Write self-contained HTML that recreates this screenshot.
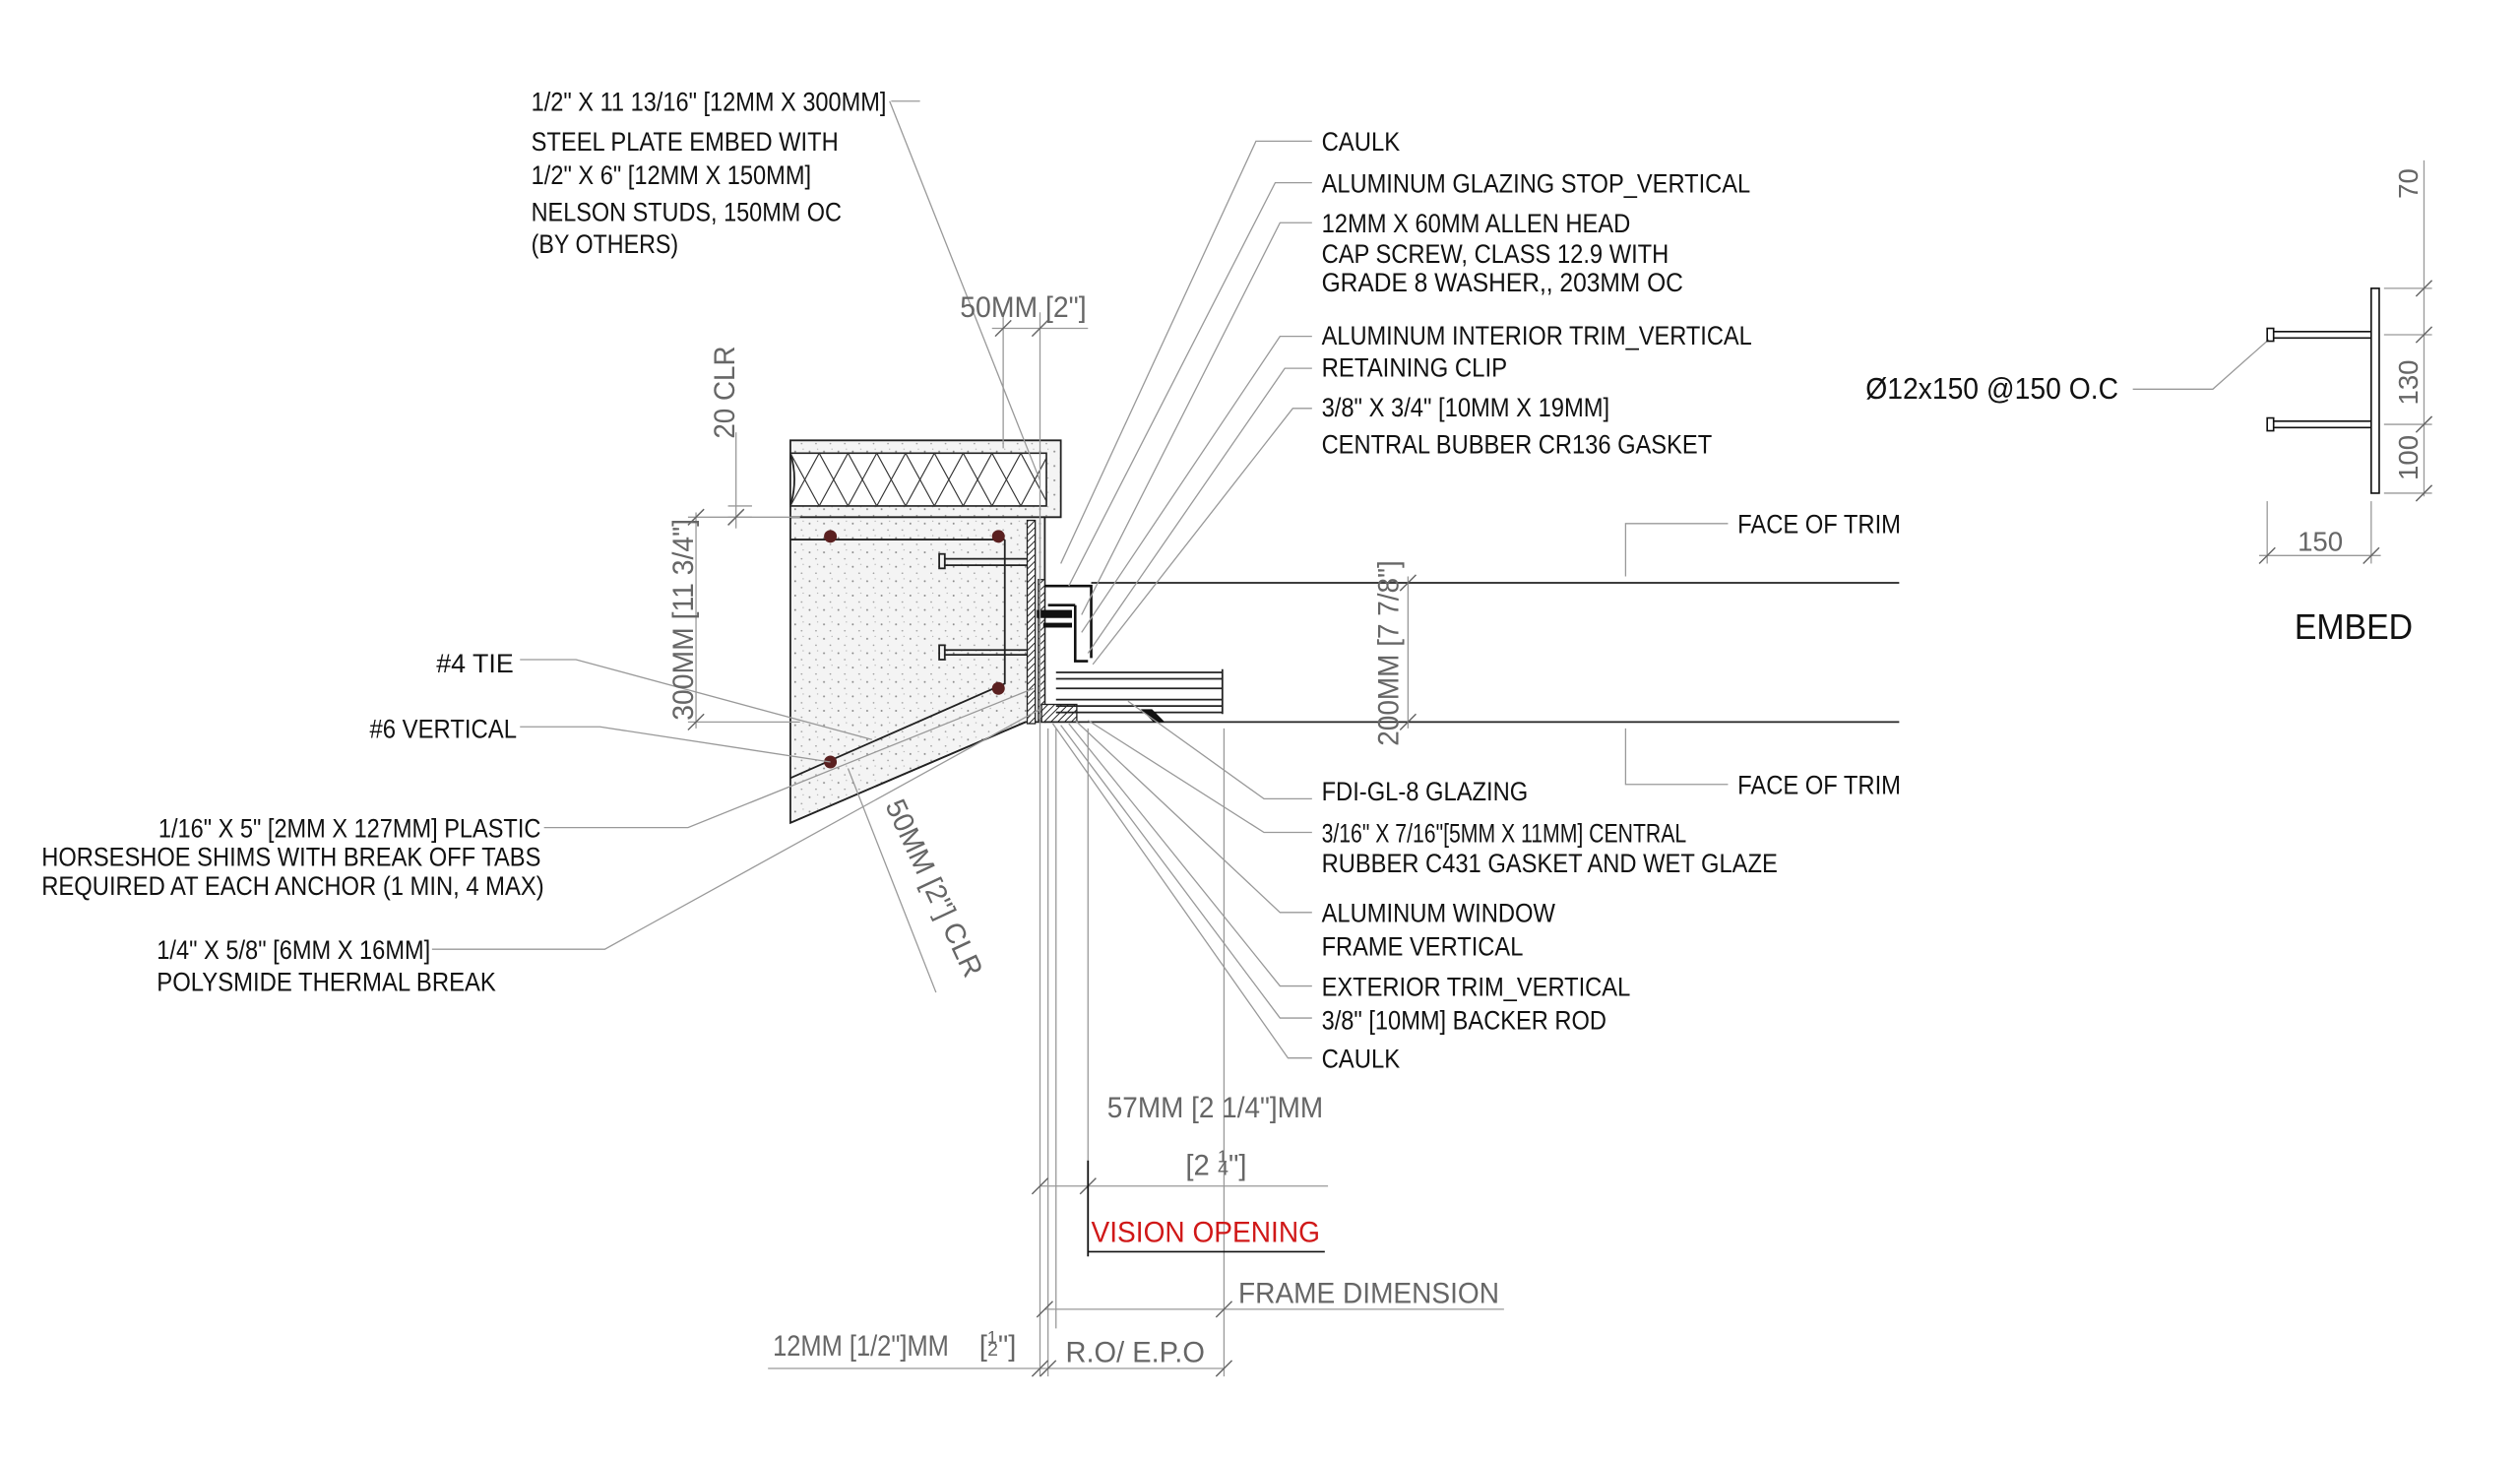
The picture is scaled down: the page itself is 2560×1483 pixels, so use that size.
<!DOCTYPE html>
<html><head><meta charset="utf-8"><style>
html,body{margin:0;padding:0;background:#fff;}
svg{display:block}
text{font-family:"Liberation Sans",sans-serif;}
.b{fill:#111;font-size:16.5px}
.g{fill:#666;font-size:18px}
.ln{stroke:#999;stroke-width:0.8;fill:none}
.k{stroke:#222;stroke-width:1.1;fill:none}
</style></head><body>
<svg width="2560" height="1483" viewBox="0 0 1575 912" xmlns="http://www.w3.org/2000/svg">
<defs>
<pattern id="dots" width="9" height="9" patternUnits="userSpaceOnUse">
<rect width="9" height="9" fill="#f4f4f4"/>
<circle cx="2" cy="3" r="0.6" fill="#888"/><circle cx="6" cy="7" r="0.5" fill="#999"/><circle cx="7" cy="1.5" r="0.4" fill="#aaa"/>
</pattern>
<pattern id="hat" width="3" height="3" patternUnits="userSpaceOnUse" patternTransform="rotate(45)">
<rect width="3" height="3" fill="#fff"/><line x1="0" y1="0" x2="0" y2="3" stroke="#222" stroke-width="1.2"/>
</pattern>
</defs>

<!-- concrete -->
<path d="M494 275 H663 V323 H653 V451 H641 L494 514 Z" fill="url(#dots)" stroke="#222" stroke-width="1.1"/>
<rect x="494" y="283" width="160" height="33" fill="#fff" stroke="#222" stroke-width="1"/>
<path d="M494 283 q5 16 0 33 M494 283 " class="k"/>
<g stroke="#333" stroke-width="0.7" fill="none">
<path d="M494 316 L512 283 L530 316 L548 283 L566 316 L584 283 L602 316 L620 283 L638 316 L654 286"/>
<path d="M494 283 L512 316 L530 283 L548 316 L566 283 L584 316 L602 283 L620 316 L638 283 L654 313"/>
</g>
<line x1="494" y1="323" x2="653" y2="323" class="k"/>
<line x1="494" y1="337" x2="628" y2="337" class="k"/>
<path d="M628 337 V427 L494 486" class="k"/>
<circle cx="519" cy="335" r="4" fill="#5a2020"/><circle cx="624" cy="335" r="4" fill="#5a2020"/>
<circle cx="624" cy="430" r="4" fill="#5a2020"/><circle cx="519" cy="476" r="4" fill="#5a2020"/>
<!-- studs -->
<g class="k"><rect x="587" y="346" width="3.5" height="9"/><rect x="587" y="403" width="3.5" height="9"/>
<line x1="590" y1="349" x2="643" y2="349"/><line x1="590" y1="353" x2="643" y2="353"/>
<line x1="590" y1="406" x2="643" y2="406"/><line x1="590" y1="409" x2="643" y2="409"/></g>
<rect x="642" y="325" width="5" height="127" fill="url(#hat)" stroke="#222" stroke-width="0.8"/>
<rect x="649" y="362" width="4" height="88" fill="url(#hat)" stroke="#222" stroke-width="0.8"/>
<rect x="651" y="440" width="22" height="11" fill="url(#hat)" stroke="#222" stroke-width="0.8"/>
<!-- frame -->
<g stroke="#111" stroke-width="1.6" fill="none">
<path d="M653 366 H682 V411"/><path d="M655 378 H672"/><path d="M672 378 V413 H680"/>
</g>
<rect x="648" y="381" width="22" height="5" fill="#111"/>
<rect x="652" y="389" width="18" height="3" fill="#111"/>
<g class="k"><line x1="682" y1="364" x2="1187" y2="364"/><line x1="653" y1="451" x2="1187" y2="451"/>
<line x1="660" y1="420" x2="764" y2="420"/><line x1="660" y1="424" x2="764" y2="424"/><line x1="660" y1="430" x2="764" y2="430"/>
<line x1="660" y1="437" x2="764" y2="437"/><line x1="660" y1="441" x2="764" y2="441"/><line x1="660" y1="445" x2="764" y2="445"/>
<line x1="764" y1="418" x2="764" y2="446"/></g>
<path d="M713 443 L720 443 L728 451 L721 451Z" fill="#111"/>
<!-- rotated slab bottom line -->
<line x1="494" y1="514" x2="641" y2="451" class="k"/>

<!-- leaders top right -->
<g class="ln">
<polyline points="820,88 785,88 663,352"/>
<polyline points="820,114 797,114 668,366"/>
<polyline points="820,139 800,139 676,384"/>
<polyline points="820,210 800,210 676,395"/>
<polyline points="820,230 803,230 680,408"/>
<polyline points="820,255 808,255 683,415"/>
<polyline points="575,63 557,63"/><polyline points="556,63 650,300"/>
<!-- bottom right leaders -->
<polyline points="820,499 790,499 705,438"/>
<polyline points="820,520 790,520 680,450"/>
<polyline points="820,570 800,570 672,450"/>
<polyline points="820,616 800,616 668,452"/>
<polyline points="820,636 800,636 663,453"/>
<polyline points="820,661 805,661 658,452"/>
<!-- left leaders -->
<polyline points="325,412 360,412 545,462"/>
<polyline points="325,454 375,454 519,476"/>
<polyline points="340,517 430,517 646,430"/>
<polyline points="270,593 378,593 650,443"/>
<!-- face of trim -->
<polyline points="1080,327 1016,327 1016,360"/>
<polyline points="1080,490 1016,490 1016,455"/>
<!-- dims -->
<line x1="620" y1="205" x2="680" y2="205"/><line x1="627" y1="195" x2="627" y2="280"/><line x1="650" y1="195" x2="650" y2="860"/>
<line x1="455" y1="316" x2="470" y2="316"/><line x1="455" y1="323" x2="470" y2="323"/><line x1="460" y1="270" x2="460" y2="330"/>
<line x1="430" y1="323" x2="500" y2="323"/><line x1="435" y1="320" x2="435" y2="455"/><line x1="430" y1="451" x2="500" y2="451"/>
<line x1="880" y1="360" x2="880" y2="455"/>
<line x1="655" y1="455" x2="655" y2="860"/><line x1="660" y1="455" x2="660" y2="830"/>
<line x1="680" y1="455" x2="680" y2="725"/><line x1="765" y1="455" x2="765" y2="860"/>
<line x1="650" y1="741" x2="830" y2="741"/>
<line x1="653" y1="818" x2="940" y2="818"/>
<line x1="480" y1="855" x2="765" y2="855"/>
<line x1="530" y1="480" x2="585" y2="620"/>
<!-- embed -->
<line x1="1515" y1="100" x2="1515" y2="310"/><line x1="1490" y1="180" x2="1520" y2="180"/><line x1="1490" y1="209" x2="1520" y2="209"/>
<line x1="1490" y1="265" x2="1520" y2="265"/><line x1="1490" y1="308" x2="1520" y2="308"/>
<line x1="1417" y1="313" x2="1417" y2="352"/><line x1="1482" y1="313" x2="1482" y2="352"/><line x1="1412" y1="347" x2="1488" y2="347"/>
<polyline points="1333,243 1383,243 1418,212"/>
</g>
<g stroke="#666" stroke-width="0.9">
<path d="M1510 185 l10 -10 M1510 214 l10 -10 M1510 270 l10 -10 M1510 313 l10 -10 M1412 352 l10 -10 M1477 352 l10 -10
M645 746 l10 -10 M675 746 l10 -10 M648 823 l10 -10 M760 823 l10 -10 M645 860 l10 -10 M650 860 l10 -10 M760 860 l10 -10
M430 328 l10 -10 M430 456 l10 -10 M455 328 l10 -10 M875 369 l10 -10 M875 456 l10 -10 M622 210 l10 -10 M645 210 l10 -10"/>
</g>
<line x1="680" y1="725" x2="680" y2="785" stroke="#111" stroke-width="1.1"/>
<line x1="680" y1="782" x2="828" y2="782" stroke="#111" stroke-width="1"/>
<g fill="none" stroke="#111" stroke-width="1">
<rect x="1482" y="180" width="5" height="128"/><rect x="1417" y="205" width="4" height="8"/><rect x="1417" y="261" width="4" height="8"/>
<line x1="1421" y1="207" x2="1482" y2="207"/><line x1="1421" y1="211" x2="1482" y2="211"/>
<line x1="1421" y1="263" x2="1482" y2="263"/><line x1="1421" y1="267" x2="1482" y2="267"/>
</g>

<!-- labels -->
<g class="b">
<text x="332" y="69" textLength="222" lengthAdjust="spacingAndGlyphs">1/2" X 11 13/16" [12MM X 300MM]</text>
<text x="332" y="94" textLength="192" lengthAdjust="spacingAndGlyphs">STEEL PLATE EMBED WITH</text>
<text x="332" y="115" textLength="175" lengthAdjust="spacingAndGlyphs">1/2" X 6" [12MM X 150MM]</text>
<text x="332" y="138" textLength="194" lengthAdjust="spacingAndGlyphs">NELSON STUDS, 150MM OC</text>
<text x="332" y="158" textLength="92" lengthAdjust="spacingAndGlyphs">(BY OTHERS)</text>
<text x="826" y="94" textLength="49" lengthAdjust="spacingAndGlyphs">CAULK</text>
<text x="826" y="120" textLength="268" lengthAdjust="spacingAndGlyphs">ALUMINUM GLAZING STOP_VERTICAL</text>
<text x="826" y="145" textLength="193" lengthAdjust="spacingAndGlyphs">12MM X 60MM ALLEN HEAD</text>
<text x="826" y="164" textLength="217" lengthAdjust="spacingAndGlyphs">CAP SCREW, CLASS 12.9 WITH</text>
<text x="826" y="182" textLength="226" lengthAdjust="spacingAndGlyphs">GRADE  8 WASHER,, 203MM  OC</text>
<text x="826" y="215" textLength="269" lengthAdjust="spacingAndGlyphs">ALUMINUM INTERIOR TRIM_VERTICAL</text>
<text x="826" y="235" textLength="116" lengthAdjust="spacingAndGlyphs">RETAINING CLIP</text>
<text x="826" y="260" textLength="180" lengthAdjust="spacingAndGlyphs">3/8" X 3/4" [10MM X 19MM]</text>
<text x="826" y="283" textLength="244" lengthAdjust="spacingAndGlyphs">CENTRAL BUBBER CR136 GASKET</text>
<text x="1086" y="333" textLength="102" lengthAdjust="spacingAndGlyphs">FACE OF TRIM</text>
<text x="1086" y="496" textLength="102" lengthAdjust="spacingAndGlyphs">FACE OF TRIM</text>
<text x="826" y="500" textLength="129" lengthAdjust="spacingAndGlyphs">FDI-GL-8 GLAZING</text>
<text x="826" y="526" textLength="228" lengthAdjust="spacingAndGlyphs">3/16" X 7/16"[5MM X 11MM] CENTRAL</text>
<text x="826" y="545" textLength="285" lengthAdjust="spacingAndGlyphs">RUBBER C431 GASKET AND WET GLAZE</text>
<text x="826" y="576" textLength="146" lengthAdjust="spacingAndGlyphs">ALUMINUM WINDOW</text>
<text x="826" y="597" textLength="126" lengthAdjust="spacingAndGlyphs">FRAME VERTICAL</text>
<text x="826" y="622" textLength="193" lengthAdjust="spacingAndGlyphs">EXTERIOR TRIM_VERTICAL</text>
<text x="826" y="643" textLength="178" lengthAdjust="spacingAndGlyphs">3/8" [10MM] BACKER ROD</text>
<text x="826" y="667" textLength="49" lengthAdjust="spacingAndGlyphs">CAULK</text>
<text x="321" y="420" text-anchor="end">#4 TIE</text>
<text x="323" y="461" text-anchor="end" textLength="92" lengthAdjust="spacingAndGlyphs">#6 VERTICAL</text>
<text x="99" y="523" textLength="239" lengthAdjust="spacingAndGlyphs">1/16" X 5" [2MM X 127MM] PLASTIC</text>
<text x="26" y="541" textLength="312" lengthAdjust="spacingAndGlyphs">HORSESHOE SHIMS WITH BREAK OFF TABS</text>
<text x="26" y="559" textLength="314" lengthAdjust="spacingAndGlyphs">REQUIRED AT EACH ANCHOR (1 MIN, 4 MAX)</text>
<text x="98" y="599" textLength="171" lengthAdjust="spacingAndGlyphs">1/4" X 5/8" [6MM X 16MM]</text>
<text x="98" y="619" textLength="212" lengthAdjust="spacingAndGlyphs">POLYSMIDE THERMAL BREAK</text>
<text x="1166" y="249" style="font-size:19px" textLength="158" lengthAdjust="spacingAndGlyphs">Ø12x150 @150 O.C</text>
<text x="1434" y="399" style="font-size:22px" textLength="74" lengthAdjust="spacingAndGlyphs">EMBED</text>
</g>
<g class="g">
<text x="600" y="198" textLength="79" lengthAdjust="spacingAndGlyphs">50MM [2"]</text>
<text transform="translate(459,274) rotate(-90)" textLength="58" lengthAdjust="spacingAndGlyphs">20 CLR</text>
<text transform="translate(433,450) rotate(-90)" textLength="126" lengthAdjust="spacingAndGlyphs">300MM [11 3/4"]</text>
<text transform="translate(874,466) rotate(-90)" textLength="116" lengthAdjust="spacingAndGlyphs">200MM [7 7/8"]</text>
<text transform="translate(553,503) rotate(65)" textLength="120" lengthAdjust="spacingAndGlyphs">50MM [2"] CLR</text>
<text x="692" y="698" textLength="135" lengthAdjust="spacingAndGlyphs">57MM [2 1/4"]MM</text>
<text x="741" y="734">[2 <tspan font-size="11" dy="-8">1</tspan><tspan font-size="12" dx="-6" dy="8">4</tspan>"]</text>
<text x="774" y="814" textLength="163" lengthAdjust="spacingAndGlyphs">FRAME DIMENSION</text>
<text x="666" y="851" textLength="87" lengthAdjust="spacingAndGlyphs">R.O/ E.P.O</text>
<text x="483" y="847" textLength="110" lengthAdjust="spacingAndGlyphs">12MM [1/2"]MM</text>
<text x="612" y="847">[<tspan font-size="11" dy="-8">1</tspan><tspan font-size="12" dx="-6" dy="8">2</tspan>"]</text>
<text transform="translate(1511,124) rotate(-90)" style="font-size:17px">70</text>
<text transform="translate(1511,253) rotate(-90)" style="font-size:17px">130</text>
<text transform="translate(1511,300) rotate(-90)" style="font-size:17px">100</text>
<text x="1436" y="344" style="font-size:17px">150</text>
</g>
<text x="682" y="776" style="font-size:18px;fill:#d01818" textLength="143" lengthAdjust="spacingAndGlyphs">VISION OPENING</text>
</svg>
</body></html>
